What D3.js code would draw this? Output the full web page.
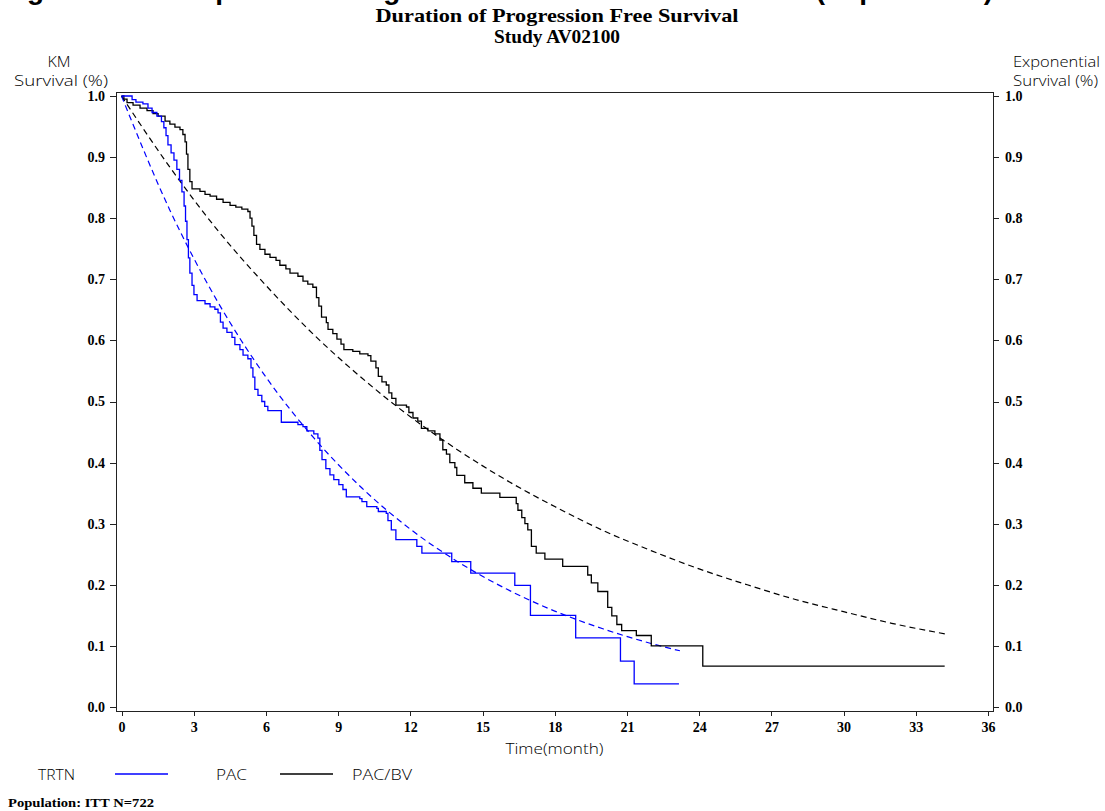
<!DOCTYPE html>
<html>
<head>
<meta charset="utf-8">
<script src="https://cdn.jsdelivr.net/npm/d3@7"></script>
<style>
  html, body { margin: 0; padding: 0; background: #fff; }
  svg { display: block; }
  .tick text { font-family: 'Liberation Serif', 'DejaVu Serif', serif; font-weight: bold; font-size: 14px; fill: #000; }
  .lbl { font-family: 'Open Sans', 'DejaVu Sans', sans-serif; font-weight: 300; font-size: 15px; fill: #000; }
  .lbl.stack { font-size: 14px; }
</style>
</head>
<body>
<svg class="km-chart"></svg>
<script>
// x ticks (months) and y ticks (survival proportion)
const xTicks = [0, 3, 6, 9, 12, 15, 18, 21, 24, 27, 30, 33, 36];
const yTicks = [0, 0.1, 0.2, 0.3, 0.4, 0.5, 0.6, 0.7, 0.8, 0.9, 1.0];

const treatments = ['PAC', 'PAC/BV'];
const colours = ['#0000ff', '#000000'];

// Kaplan-Meier steps, [month, survival]
const pacSteps = [
  [0, 1.0], [0.44, 0.994], [0.60, 0.990], [0.89, 0.987], [1.10, 0.980], [1.27, 0.973],
  [1.47, 0.967], [1.66, 0.958], [1.76, 0.948], [1.85, 0.935], [1.93, 0.920], [2.06, 0.907],
  [2.18, 0.895], [2.30, 0.880], [2.41, 0.862], [2.51, 0.843], [2.60, 0.820], [2.66, 0.795],
  [2.72, 0.765], [2.78, 0.735], [2.84, 0.710], [2.93, 0.690], [3.01, 0.675], [3.14, 0.665],
  [3.47, 0.660], [3.68, 0.655], [3.88, 0.651], [4.01, 0.645], [4.11, 0.630], [4.22, 0.620],
  [4.38, 0.613], [4.59, 0.605], [4.71, 0.593], [4.92, 0.585], [5.05, 0.576], [5.25, 0.570],
  [5.38, 0.555], [5.46, 0.540], [5.54, 0.520], [5.67, 0.510], [5.83, 0.500], [5.95, 0.492],
  [6.08, 0.485], [6.64, 0.466], [7.33, 0.462], [7.54, 0.459], [7.70, 0.452], [7.99, 0.447],
  [8.16, 0.440], [8.24, 0.420], [8.33, 0.405], [8.49, 0.390], [8.66, 0.380], [8.82, 0.372],
  [9.03, 0.364], [9.20, 0.356], [9.34, 0.344], [9.90, 0.341], [9.99, 0.336], [10.19, 0.328],
  [10.61, 0.325], [10.67, 0.320], [11.00, 0.317], [11.07, 0.305], [11.21, 0.290], [11.40, 0.274],
  [12.27, 0.263], [12.48, 0.252], [13.72, 0.238], [14.51, 0.219], [16.34, 0.199], [16.99, 0.150],
  [18.87, 0.113], [20.73, 0.075], [21.30, 0.038], [23.16, 0.038],
];

const bvSteps = [
  [0, 1.0], [0.10, 0.995], [0.23, 0.989], [0.48, 0.985], [0.77, 0.980], [1.06, 0.976],
  [1.31, 0.971], [1.52, 0.967], [1.81, 0.959], [2.01, 0.954], [2.22, 0.949], [2.43, 0.945],
  [2.55, 0.937], [2.64, 0.925], [2.70, 0.905], [2.76, 0.880], [2.84, 0.860], [2.93, 0.848],
  [3.26, 0.844], [3.47, 0.839], [3.68, 0.836], [3.95, 0.831], [4.22, 0.826], [4.51, 0.821],
  [4.75, 0.818], [5.00, 0.815], [5.25, 0.811], [5.34, 0.800], [5.42, 0.787], [5.50, 0.772],
  [5.61, 0.757], [5.75, 0.749], [5.96, 0.741], [6.17, 0.736], [6.42, 0.731], [6.58, 0.723],
  [6.83, 0.717], [7.00, 0.710], [7.33, 0.705], [7.54, 0.697], [7.74, 0.692], [7.95, 0.687],
  [8.10, 0.670], [8.20, 0.656], [8.31, 0.638], [8.51, 0.629], [8.58, 0.618], [8.78, 0.611],
  [8.95, 0.602], [9.12, 0.594], [9.24, 0.585], [9.61, 0.582], [9.90, 0.578], [10.24, 0.575],
  [10.36, 0.566], [10.57, 0.555], [10.67, 0.541], [10.82, 0.532], [11.00, 0.527], [11.11, 0.514],
  [11.23, 0.505], [11.40, 0.494], [11.84, 0.491], [11.94, 0.482], [12.11, 0.473], [12.31, 0.468],
  [12.46, 0.456], [12.73, 0.452], [13.02, 0.447], [13.23, 0.437], [13.35, 0.421], [13.50, 0.414],
  [13.64, 0.400], [13.85, 0.392], [13.93, 0.379], [14.26, 0.367], [14.60, 0.358], [14.95, 0.350],
  [15.72, 0.343], [16.40, 0.333], [16.47, 0.322], [16.63, 0.310], [16.76, 0.300], [16.88, 0.290],
  [17.03, 0.263], [17.23, 0.252], [17.59, 0.242], [18.33, 0.230], [19.37, 0.216], [19.52, 0.203],
  [19.79, 0.189], [20.20, 0.163], [20.37, 0.149], [20.58, 0.135], [20.78, 0.125], [21.39, 0.117],
  [22.01, 0.100], [24.15, 0.067], [34.20, 0.067],
];

// fitted exponential curves, [month, survival]
const pacExp = [
  [0, 1.0], [2, 0.814], [4, 0.663], [6, 0.540], [8, 0.440], [10, 0.358], [12, 0.291],
  [14, 0.237], [16, 0.193], [18, 0.157], [20, 0.128], [22, 0.104], [23.2, 0.092],
];

const bvExp = [
  [0, 1.0], [2, 0.884], [4, 0.780], [6, 0.690], [8, 0.609], [10, 0.538], [12, 0.475],
  [14, 0.420], [16, 0.371], [18, 0.328], [20, 0.289], [22, 0.256], [24, 0.226], [26, 0.200],
  [28, 0.176], [30, 0.156], [32, 0.137], [34.3, 0.119],
];

const W = 1105;
const H = 811;
const frame = { left: 116, right: 993, top: 92, bottom: 711 };

const svg = d3.select('.km-chart')
  .attr('width', W)
  .attr('height', H);

const x = d3.scaleLinear().domain([0, 36]).range([121.5, 988]);
const y = d3.scaleLinear().domain([0, 1]).range([707, 96]);

// clipped page heading (only the descenders are on the page)
svg.append('text')
  .attr('x', 2)
  .attr('y', -1)
  .style('font-family', "'Liberation Sans', Arial, sans-serif")
  .style('font-weight', 'bold')
  .style('font-size', '28px')
  .text('Figure 14.2.1 Exponential Regression Model Fit vs KM Curve (Exponential)');

const heading = (txt, yy, len) => svg.append('text')
  .attr('x', 557)
  .attr('y', yy)
  .attr('text-anchor', 'middle')
  .attr('textLength', len)
  .attr('lengthAdjust', 'spacingAndGlyphs')
  .style('font-family', "'Liberation Serif', serif")
  .style('font-weight', 'bold')
  .style('font-size', '19px')
  .text(txt);

heading('Duration of Progression Free Survival', 22, 363);
heading('Study AV02100', 43, 126);

// frame
svg.append('rect')
  .attr('x', frame.left)
  .attr('y', frame.top)
  .attr('width', frame.right - frame.left)
  .attr('height', frame.bottom - frame.top)
  .attr('fill', 'none')
  .attr('stroke', '#222')
  .attr('stroke-width', 1)
  .attr('shape-rendering', 'crispEdges');

const fmt = d3.format('.1f');

const leftAxis = svg.append('g')
  .attr('transform', `translate(${frame.left},0)`)
  .call(d3.axisLeft(y).tickValues(yTicks).tickFormat(fmt).tickSize(6).tickPadding(5));

const rightAxis = svg.append('g')
  .attr('transform', `translate(${frame.right},0)`)
  .call(d3.axisRight(y).tickValues(yTicks).tickFormat(fmt).tickSize(6).tickPadding(6));

const bottomAxis = svg.append('g')
  .attr('transform', `translate(0,${frame.bottom})`)
  .call(d3.axisBottom(x).tickValues(xTicks).tickFormat(d3.format('d')).tickSize(5).tickPadding(6));

[leftAxis, rightAxis, bottomAxis].forEach((g) => {
  g.select('.domain').remove();
  g.selectAll('.tick line').attr('stroke', '#222').attr('shape-rendering', 'crispEdges');
});

// curves
const stepLine = d3.line()
  .x(d => x(d[0]))
  .y(d => y(d[1]))
  .curve(d3.curveStepAfter);

const smoothLine = d3.line()
  .x(d => x(d[0]))
  .y(d => y(d[1]))
  .curve(d3.curveMonotoneX);

svg.append('path')
  .datum(bvExp)
  .attr('d', smoothLine)
  .attr('fill', 'none')
  .attr('stroke', colours[1])
  .attr('stroke-width', 1.2)
  .attr('stroke-dasharray', '6 4');

svg.append('path')
  .datum(pacExp)
  .attr('d', smoothLine)
  .attr('fill', 'none')
  .attr('stroke', colours[0])
  .attr('stroke-width', 1.2)
  .attr('stroke-dasharray', '6 4');

svg.append('path')
  .datum(bvSteps)
  .attr('d', stepLine)
  .attr('fill', 'none')
  .attr('stroke', colours[1])
  .attr('stroke-width', 1.3);

svg.append('path')
  .datum(pacSteps)
  .attr('d', stepLine)
  .attr('fill', 'none')
  .attr('stroke', colours[0])
  .attr('stroke-width', 1.3);

// plain labels with a fixed width, as in the reference
const label = (txt, xx, yy, len, anchor, cls) => svg.append('text')
  .attr('class', cls ? `lbl ${cls}` : 'lbl')
  .attr('x', xx)
  .attr('y', yy)
  .attr('text-anchor', anchor || 'start')
  .attr('textLength', len)
  .attr('lengthAdjust', 'spacingAndGlyphs')
  .text(txt);

// axis titles (two stacked lines each side)
label('KM', 59, 67, 23, 'middle', 'stack');
label('Survival (%)', 61, 86, 94, 'middle', 'stack');
label('Exponential', 1013, 67, 87, 'start', 'stack');
label('Survival (%)', 1013, 86, 85, 'start', 'stack');
label('Time(month)', (frame.left + frame.right) / 2, 754, 98, 'middle');

// legend
const legendY = 774;
label('TRTN', 38, legendY + 6, 37);

const legendX = [115, 280];
const legendLen = [31, 60];
const legend = svg.selectAll('.legend-item')
  .data(treatments)
  .enter()
  .append('g')
  .attr('class', 'legend-item')
  .attr('transform', (d, i) => `translate(${legendX[i]},${legendY})`);

legend.append('line')
  .attr('x1', 0)
  .attr('x2', 53)
  .attr('stroke', (d, i) => colours[i])
  .attr('stroke-width', 1.3);

legend.append('text')
  .attr('class', 'lbl')
  .attr('x', (d, i) => (i === 0 ? 101 : 72))
  .attr('y', 6)
  .attr('textLength', (d, i) => legendLen[i])
  .attr('lengthAdjust', 'spacingAndGlyphs')
  .text(d => d);

svg.append('text')
  .attr('x', 8)
  .attr('y', 807)
  .attr('textLength', 146)
  .attr('lengthAdjust', 'spacingAndGlyphs')
  .style('font-family', "'Liberation Serif', serif")
  .style('font-weight', 'bold')
  .style('font-size', '12px')
  .text('Population:  ITT N=722');
</script>
</body>
</html>
